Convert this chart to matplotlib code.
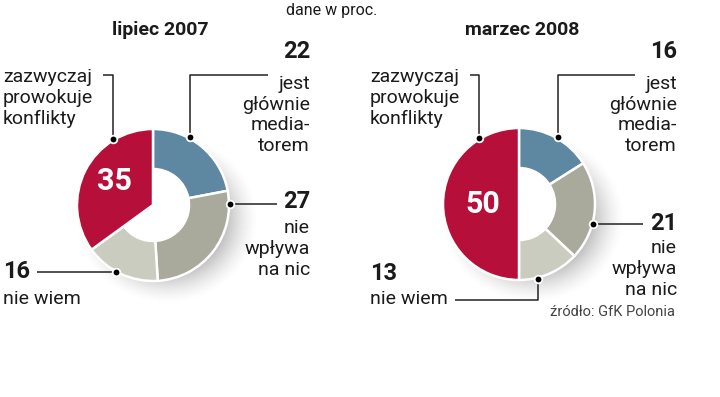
import numpy as np
import matplotlib
matplotlib.use("Agg")
import matplotlib.pyplot as plt

# ---------------- data ----------------
categories = ["jest głównie mediatorem", "nie wpływa na nic", "nie wiem", "zazwyczaj prowokuje konflikty"]
titles = ["lipiec 2007", "marzec 2008"]
values_2007 = [22, 27, 16, 35]
values_2008 = [16, 21, 13, 50]
colors = ["#5e87a1", "#a9aa9b", "#caccc0", "#b50f3a"]

W, H = 720, 397
FONT = ["Roboto", "DejaVu Sans"]
INK = "#1b1b1b"


def Y(y):
    # picture coordinates (top-down) -> axes coordinates
    return H - y


fig = plt.figure(figsize=(7.2, 3.97), dpi=100)
ax = fig.add_axes([0, 0, 1, 1])
ax.axis("off")

R_OUT, R_IN = 76, 36


def shadow(cx, cy):
    # soft grey shadow below the ring
    xs = np.linspace(cx - 140, cx + 140, 280)
    ys = np.linspace(cy - 140, cy + 140, 280)
    gx, gy = np.meshgrid(xs, ys)
    d = np.hypot(gx - cx - 14, (gy - cy + 14) * 1.08)
    a = np.clip((R_OUT + 16 - d) / 34, 0, 1) ** 1.5 * 0.4
    img = np.zeros((280, 280, 4))
    img[..., :3] = 0.35
    img[..., 3] = a
    ax.imshow(img, extent=(xs[0], xs[-1], ys[0], ys[-1]), origin="lower",
              zorder=0, interpolation="bilinear")


def donut(vals, cx, cy):
    shadow(cx, Y(cy))
    wedges, _ = ax.pie(vals, colors=colors, startangle=90, counterclock=False,
                       radius=R_OUT, center=(cx, Y(cy)), frame=True,
                       wedgeprops=dict(width=R_OUT - R_IN, edgecolor="white",
                                       linewidth=1.8))
    # the red slice is a full wedge, no hole
    wedges[3].set_width(None)
    for w in wedges:
        w.set_zorder(2)
    ax.add_patch(plt.Circle((cx, Y(cy)), R_IN - 1, color="white", zorder=1.9))


def dot(cx, cy, ang):
    a = np.deg2rad(ang)
    x = cx + (R_OUT + 1) * np.cos(a)
    y = Y(cy) + (R_OUT + 1) * np.sin(a)
    ax.plot(x, y, "o", ms=5.5, mfc="black", mec="white", mew=1.3, zorder=5)
    return x, H - y


def leader(pts):
    xs = [p[0] for p in pts]
    ys = [Y(p[1]) for p in pts]
    ax.plot(xs, ys, color="#222222", lw=1.1, zorder=4, solid_capstyle="butt")


def label(x, y, s, ha, size=14, weight="normal", color=INK):
    ax.text(x, Y(y), s, ha=ha, va="center", ma=ha, fontsize=size,
            fontweight=weight, color=color, family=FONT, linespacing=1.2,
            zorder=6)


# ---------------- left: lipiec 2007 ----------------
cx, cy = 153, 205
donut(values_2007, cx, cy)
ax.text(132, Y(181), str(values_2007[3]), color="white", fontsize=22,
        fontweight="bold", family=FONT, ha="right", va="center", zorder=6)

p = dot(cx, cy, 121)
leader([(103, 75), (p[0], 75), p])
p = dot(cx, cy, 61.5)
leader([(268, 75), (p[0], 75), p])
p = dot(cx, cy, 0.8)
leader([p, (277, p[1])])
p = dot(cx, cy, -119)
leader([(37, p[1]), p])

label(3, 98, "zazwyczaj\nprowokuje\nkonflikty", "left")
label(310, 52, str(values_2007[0]), "right", size=17, weight="bold")
label(310, 115, "jest\ngłównie\nmedia-\ntorem", "right")
label(310, 202, str(values_2007[1]), "right", size=17, weight="bold")
label(310, 249, "nie\nwpływa\nna nic", "right")
label(3, 272, str(values_2007[2]), "left", size=17, weight="bold")
label(3, 299, "nie wiem", "left")

# ---------------- right: marzec 2008 ----------------
cx, cy = 519, 204
donut(values_2008, cx, cy)
ax.text(500, Y(cy), str(values_2008[3]), color="white", fontsize=22,
        fontweight="bold", family=FONT, ha="right", va="center", zorder=6)

p = dot(cx, cy, 121.5)
leader([(470, 75), (p[0], 75), p])
p = dot(cx, cy, 60)
leader([(635, 75), (p[0], 75), p])
p = dot(cx, cy, -15)
leader([p, (643, p[1])])
p = dot(cx, cy, -76)
leader([(455, 300), (p[0], 300), p])

label(370, 98, "zazwyczaj\nprowokuje\nkonflikty", "left")
label(677, 52, str(values_2008[0]), "right", size=17, weight="bold")
label(677, 115, "jest\ngłównie\nmedia-\ntorem", "right")
label(677, 224, str(values_2008[1]), "right", size=17, weight="bold")
label(677, 269, "nie\nwpływa\nna nic", "right")
label(370, 274, str(values_2008[2]), "left", size=17, weight="bold")
label(370, 299, "nie wiem", "left")

# ---------------- titles ----------------
label(160, 30, titles[0], "center", size=14, weight="bold")
label(522, 30, titles[1], "center", size=14, weight="bold")
label(332, 11, "dane w proc.", "center", size=11.5)
label(675, 312, "źródło: GfK Polonia", "right", size=10.5, color="#444444")

ax.set_aspect("equal")
ax.set_xlim(0, W)
ax.set_ylim(0, H)
fig.savefig("out.png", dpi=100, facecolor="white")
